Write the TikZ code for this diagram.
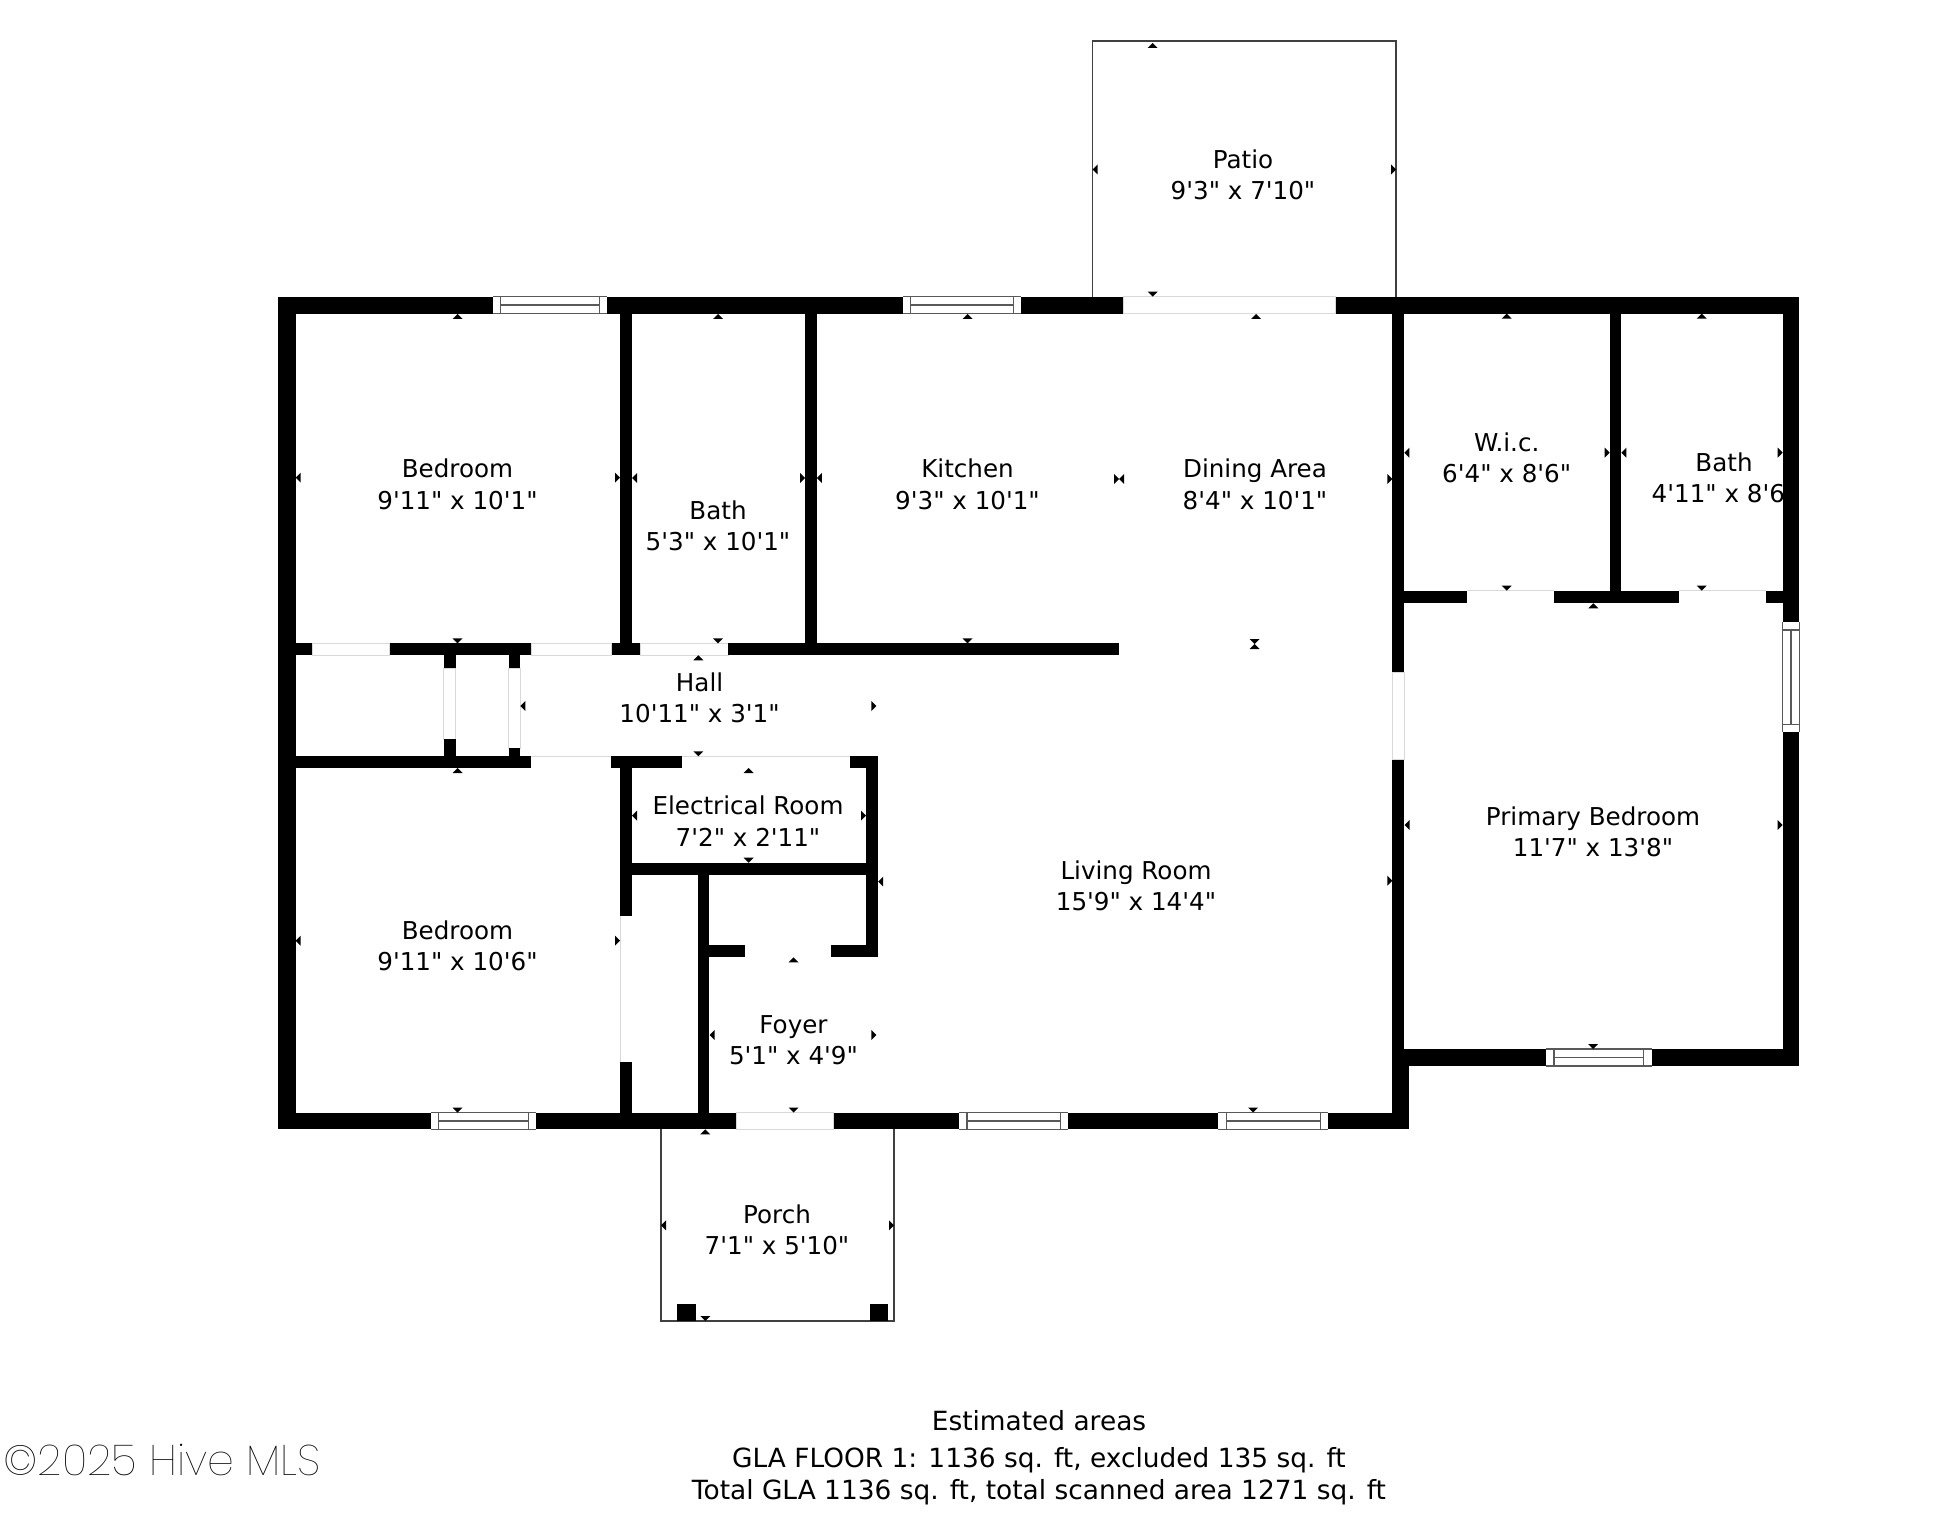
\documentclass[tikz,border=0pt]{standalone}
\usepackage{fontspec}
\newfontfamily\lblfont{DejaVu Sans}
\newfontfamily\wmfont{Poppins Thin}
\definecolor{doorline}{gray}{0.85}
\definecolor{winline}{gray}{0.35}
\definecolor{outline}{gray}{0.25}
\tikzset{
  label/.style={font=\lblfont\fontsize{12.3}{15.7}\selectfont,align=center,inner sep=0pt,text=black},
  footer/.style={font=\lblfont\fontsize{13.2}{15.7}\selectfont,align=center,inner sep=0pt,text=black},
  wallfill/.style={fill=black},
  door/.style={fill=white,draw=doorline,line width=0.5pt},
  terrace/.style={draw=outline,line width=0.6pt},
  tickfill/.style={fill=black}
}
\newcommand\fpwall[4]{\fill[wallfill] (#1,#2) rectangle (#3,#4);}
\newcommand\fpdoor[4]{\path[door] (#1,#2) rectangle (#3,#4);}
\newcommand\fpwinH[6]{\fill[white] (#1,#5) rectangle (#4,#6);
  \draw[winline,line width=0.6pt] (#1,#5) -- (#4,#5) (#1,#6) -- (#4,#6) (#2,#5) -- (#2,#6) (#3,#5) -- (#3,#6);
  \draw[winline,line width=0.8pt] (#2,{(#5+#6)/2}) -- (#3,{(#5+#6)/2});}
\newcommand\fpwinV[6]{\fill[white] (#5,#1) rectangle (#6,#4);
  \draw[winline,line width=0.6pt] (#5,#1) -- (#5,#4) (#6,#1) -- (#6,#4) (#5,#2) -- (#6,#2) (#5,#3) -- (#6,#3);
  \draw[winline,line width=0.8pt] ({(#5+#6)/2},#2) -- ({(#5+#6)/2},#3);}
\newcommand\tkU[2]{\fill[tickfill] (#1-5,#2+5) -- (#1,#2) -- (#1+5,#2+5) -- cycle;}
\newcommand\tkD[2]{\fill[tickfill] (#1-5,#2-5) -- (#1,#2) -- (#1+5,#2-5) -- cycle;}
\newcommand\tkL[2]{\fill[tickfill] (#1+5,#2-5) -- (#1,#2) -- (#1+5,#2+5) -- cycle;}
\newcommand\tkR[2]{\fill[tickfill] (#1-5,#2-5) -- (#1,#2) -- (#1-5,#2+5) -- cycle;}
\begin{document}
\begin{tikzpicture}[x=0.5pt,y=-0.5pt]
\useasboundingbox (0,0) rectangle (1945,1530);
\fill[white] (0,0) rectangle (1945,1530);

% terraces
\draw[terrace] (1092.3,296.7) -- (1092.3,41) -- (1396,41) -- (1396,296.7);
\draw[terrace] (661,1129) -- (661,1321) -- (894,1321) -- (894,1129);
\fill[wallfill] (677,1303.7) rectangle (695.7,1321);
\fill[wallfill] (869.7,1303.7) rectangle (888.3,1321);

% room labels
\node[label] (bed1) at (457.5,484.4) {Bedroom\\9'11" x 10'1"};
\node[label] (bath1) at (718,526) {Bath\\5'3" x 10'1"};
\node[label] (kitchen) at (967.5,484.4) {Kitchen\\9'3" x 10'1"};
\node[label] (dining) at (1255,484.4) {Dining Area\\8'4" x 10'1"};
\node[label] (wic) at (1506.7,458) {W.i.c.\\6'4" x 8'6"};
\node[label] (bath2) at (1724,478) {Bath\\4'11" x 8'6"};
\node[label] (hall) at (699.6,697.7) {Hall\\10'11" x 3'1"};
\node[label] (elec) at (748,821) {Electrical Room\\7'2" x 2'11"};
\node[label] (bed2) at (457.5,945.8) {Bedroom\\9'11" x 10'6"};
\node[label] (foyer) at (793.5,1040) {Foyer\\5'1" x 4'9"};
\node[label] (living) at (1136,886) {Living Room\\15'9" x 14'4"};
\node[label] (primary) at (1593,831.7) {Primary Bedroom\\11'7" x 13'8"};
\node[label] (porch) at (777,1230) {Porch\\7'1" x 5'10"};
\node[label] (patio) at (1243,175) {Patio\\9'3" x 7'10"};

% outer walls
\fpwall{278}{296.7}{493.2}{313.7}
\fpwall{607.1}{296.7}{902.5}{313.7}
\fpwall{1021}{296.7}{1123.9}{313.7}
\fpwall{1335.7}{296.7}{1799.3}{313.7}
\fpdoor{1123.9}{296.7}{1335.7}{313.7}
\fpwall{278}{296.7}{295.6}{1129.3}
\fpwall{278}{1112.5}{430.6}{1129.3}
\fpwall{535.9}{1112.5}{736}{1129.3}
\fpwall{833.9}{1112.5}{959}{1129.3}
\fpwall{1068}{1112.5}{1218.3}{1129.3}
\fpwall{1327.8}{1112.5}{1409}{1129.3}
\fpdoor{736}{1112.5}{833.9}{1129.3}
\fpwall{1392.3}{1049}{1409}{1129.3}
\fpwall{1404.6}{1049}{1546}{1066}
\fpwall{1651.6}{1049}{1799.3}{1066}
\fpwall{1782.7}{296.7}{1799.3}{622.3}
\fpwall{1782.7}{731.7}{1799.3}{1066}
\fpwall{1392.3}{313.7}{1404.3}{672.3}
\fpwall{1392.3}{759}{1404.3}{1049}
\fpdoor{1392.3}{672.3}{1404.3}{759}

% windows
\fpwinH{493.2}{500.4}{599.3}{607.1}{296.7}{313.7}
\fpwinH{902.5}{910.4}{1013.2}{1021}{296.7}{313.7}
\fpwinH{430.6}{438.4}{528.6}{535.9}{1112.5}{1129.3}
\fpwinH{959}{967}{1060.6}{1068}{1112.5}{1129.3}
\fpwinH{1218.3}{1226.2}{1320.5}{1327.8}{1112.5}{1129.3}
\fpwinH{1546}{1554}{1643.7}{1651.6}{1049}{1066}
\fpwinV{622.3}{630}{724.3}{731.7}{1782.7}{1799.3}

% inner walls: upper hall row
\fpwall{295.6}{643.3}{312.7}{655.3}
\fpdoor{312.7}{643.3}{389.8}{655.3}
\fpwall{389.8}{643.3}{531.4}{655.3}
\fpdoor{531.4}{643.3}{611.8}{655.3}
\fpwall{611.8}{643.3}{640.8}{655.3}
\fpdoor{640.8}{643.3}{728.2}{655.3}
\fpwall{728.2}{643.3}{1119.3}{655.3}
\fpwall{620}{313.7}{631.8}{643.3}
\fpwall{804.8}{313.7}{816.7}{643.3}

% closet stubs
\fpwall{443.7}{655.3}{455.5}{668.3}
\fpdoor{443.7}{668.3}{455.5}{739}
\fpwall{443.7}{739}{455.5}{756}
\fpwall{508.6}{655.3}{520.4}{668.3}
\fpdoor{508.6}{668.3}{520.4}{748.3}
\fpwall{508.6}{748.3}{520.4}{756}

% lower hall row
\fpwall{295.6}{756}{530.6}{768}
\fpwall{610.6}{756}{682.4}{768}
\fpwall{849.8}{756}{878}{768}
\draw[doorline,line width=0.5pt] (530.6,756) -- (610.6,756) (682.4,756) -- (849.8,756);

% electrical room, foyer, bedroom closet
\fpwall{620}{768}{631.8}{915.7}
\fpwall{620}{1062}{631.8}{1112.5}
\draw[doorline,line width=0.3pt] (620,915.7) -- (620,1062);
\fpwall{631.8}{862.7}{866}{874.7}
\fpwall{866}{768}{878}{957.3}
\fpwall{831.4}{945.3}{878}{957.3}
\fpwall{698}{874.7}{709.4}{1112.5}
\fpwall{709.4}{945.3}{744.5}{957.3}

% WIC and bath
\fpwall{1404.3}{590.7}{1467}{603.3}
\fpwall{1554.3}{590.7}{1679.3}{603.3}
\fpwall{1766.3}{590.7}{1782.7}{603.3}
\draw[doorline,line width=0.5pt] (1467,590.7) -- (1554.3,590.7) (1679.3,590.7) -- (1766.3,590.7);
\fpwall{1609.7}{313.7}{1621.3}{590.7}

% dimension ticks
\tkU{1152.7}{43} \tkL{1092.5}{169.5} \tkR{1396}{169.5} \tkD{1152.7}{296.7}
\tkU{457.5}{314} \tkL{295.7}{477.6} \tkR{620}{477.6} \tkD{457.5}{643.3}
\tkU{718}{314} \tkL{632}{478} \tkR{805}{478} \tkD{718}{643.3}
\tkU{967.5}{314} \tkL{816.8}{478} \tkR{1119}{479} \tkD{967.5}{643.3}
\tkU{1256}{314} \tkL{1119}{479} \tkR{1392.3}{479} \tkD{1254.7}{644} \tkU{1254.7}{644}
\tkU{1506.7}{313.7} \tkL{1404.3}{452.7} \tkR{1609.7}{452.7} \tkD{1506.7}{590.7}
\tkU{1701.7}{313.7} \tkL{1621.3}{452.7} \tkR{1782.7}{452.7} \tkD{1701.7}{590.7}
\tkU{698.4}{655.3} \tkL{520.4}{706} \tkR{876.3}{706} \tkD{698.4}{756.3}
\tkU{748.6}{768} \tkL{632}{815.7} \tkR{866}{815.7} \tkD{748.6}{862.7}
\tkU{457.5}{768} \tkL{295.6}{940.7} \tkR{620}{940.7} \tkD{457.5}{1112.5}
\tkL{878.2}{881.7} \tkR{1392.3}{880.7} \tkD{1253.1}{1112.5}
\tkU{793.5}{957.3} \tkL{709.6}{1035} \tkR{876.3}{1035} \tkD{793.5}{1112.5}
\tkU{705.3}{1129.3} \tkL{661}{1225.3} \tkR{894}{1225.3} \tkD{705.3}{1321}
\tkU{1593.3}{603.3} \tkL{1404.5}{825} \tkR{1782.7}{825} \tkD{1593.2}{1049}

% footer
\node[footer] (est) at (1039,1420.7) {Estimated areas};
\node[footer] (gla) at (1039,1460.7) {GLA FLOOR 1: 1136 sq. ft, excluded 135 sq. ft};
\node[footer] (total) at (1039,1492) {Total GLA 1136 sq. ft, total scanned area 1271 sq. ft};
\node[anchor=west,inner sep=0pt,font=\wmfont\fontsize{21.4}{22}\selectfont] (mark) at (3,1460) {©2025 Hive MLS};
\end{tikzpicture}
\end{document}
